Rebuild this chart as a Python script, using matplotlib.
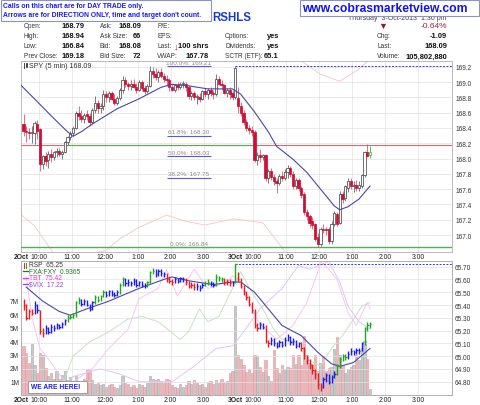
import numpy as np
import matplotlib
matplotlib.use("Agg")
import matplotlib.pyplot as plt
from matplotlib.patches import Rectangle
from matplotlib.lines import Line2D

plt.rcParams['font.family'] = ['Liberation Sans', 'DejaVu Sans']

# SPY 5 min candles: 2-Oct (78 bars) then 3-Oct up to 1:30 pm (49 bars)
spy_open = [
    168.45, 168.36, 168.34, 168.33, 168.33, 168.45,
    168.38, 167.93, 168.03, 167.98, 168.06, 168.02, 168.08, 168.10, 168.06, 168.09, 168.21, 168.28,
    168.33, 168.40, 168.60, 168.56, 168.52, 168.58, 168.55, 168.48, 168.64, 168.72, 168.66, 168.68,
    168.84, 168.80, 168.85, 168.78, 168.73, 168.79, 168.90, 169.03, 168.97, 168.95, 168.98, 168.94,
    168.90, 169.00, 168.92, 168.88, 168.95, 169.15, 169.10, 169.06, 169.13, 169.08, 169.04, 169.02,
    168.93, 168.90, 168.96, 168.93, 168.97, 168.98, 168.93, 168.82, 168.85, 168.80, 168.80, 168.78,
    168.88, 168.84, 168.90, 168.86, 168.84, 169.04, 168.98, 168.96, 168.86, 168.90, 168.86, 168.80,
    168.79, 168.68, 168.60, 168.48, 168.40, 168.37,
    168.35, 167.98, 168.04, 168.02, 168.04, 167.74, 167.84, 167.76, 167.71, 167.68, 167.77, 167.74,
    167.82, 167.87, 167.80, 167.64, 167.72, 167.62, 167.53, 167.30, 167.25, 167.18, 167.14, 166.98,
    166.88, 167.08, 167.08, 167.08, 166.92, 167.15, 167.28, 167.16, 167.54, 167.48, 167.62, 167.70,
    167.64, 167.66, 167.62, 167.64, 167.78, 168.08, 168.04]
spy_high = [
    168.58, 168.42, 168.40, 168.42, 168.49, 168.50,
    168.40, 168.05, 168.08, 168.10, 168.12, 168.10, 168.14, 168.14, 168.11, 168.23, 168.30, 168.36,
    168.42, 168.62, 168.69, 168.63, 168.60, 168.63, 168.60, 168.66, 168.82, 168.76, 168.72, 168.90,
    168.88, 168.88, 168.88, 168.84, 168.82, 168.92, 169.08, 169.06, 169.00, 169.02, 169.04, 168.99,
    169.02, 169.03, 168.96, 168.98, 169.21, 169.20, 169.18, 169.16, 169.18, 169.12, 169.09, 169.05,
    168.98, 168.98, 169.00, 169.00, 169.01, 169.00, 168.96, 168.88, 168.88, 168.84, 168.86, 168.90,
    168.92, 168.92, 168.93, 168.90, 169.10, 169.08, 169.02, 168.98, 168.92, 168.93, 168.90, 169.21,
    168.94, 168.74, 168.64, 168.52, 168.44, 168.42,
    168.37, 168.08, 168.12, 168.06, 168.06, 167.86, 167.88, 167.80, 167.74, 167.80, 167.84, 167.86,
    167.92, 167.90, 167.84, 167.75, 167.75, 167.64, 167.56, 167.34, 167.28, 167.24, 167.16, 167.02,
    167.10, 167.14, 167.10, 167.10, 167.18, 167.32, 167.30, 167.58, 167.58, 167.66, 167.74, 167.74,
    167.70, 167.72, 167.70, 167.80, 168.10, 168.19, 168.16]
spy_low = [
    168.30, 168.22, 168.25, 168.20, 168.19, 168.25,
    167.84, 167.86, 167.90, 167.88, 167.95, 167.98, 168.02, 168.03, 168.00, 168.07, 168.18, 168.24,
    168.30, 168.38, 168.50, 168.48, 168.46, 168.50, 168.42, 168.45, 168.60, 168.60, 168.60, 168.64,
    168.74, 168.74, 168.76, 168.70, 168.70, 168.76, 168.86, 168.94, 168.90, 168.90, 168.92, 168.86,
    168.88, 168.88, 168.84, 168.85, 168.93, 169.05, 169.02, 169.00, 169.05, 169.00, 168.95, 168.88,
    168.88, 168.87, 168.90, 168.91, 168.92, 168.88, 168.78, 168.76, 168.76, 168.71, 168.74, 168.76,
    168.80, 168.78, 168.82, 168.78, 168.82, 168.96, 168.90, 168.84, 168.80, 168.78, 168.76, 168.78,
    168.60, 168.56, 168.44, 168.36, 168.32, 168.30,
    167.95, 167.92, 167.96, 167.98, 167.70, 167.68, 167.72, 167.66, 167.55, 167.66, 167.70, 167.72,
    167.74, 167.76, 167.60, 167.60, 167.58, 167.48, 167.26, 167.20, 167.10, 167.08, 166.92, 166.84,
    166.86, 167.02, 167.00, 166.88, 166.88, 167.12, 167.12, 167.14, 167.42, 167.44, 167.56, 167.60,
    167.56, 167.58, 167.58, 167.62, 167.76, 168.02, 168.01]
spy_close = [
    168.36, 168.34, 168.33, 168.34, 168.46, 168.36,
    167.93, 168.03, 167.97, 168.06, 168.02, 168.08, 168.10, 168.06, 168.08, 168.21, 168.28, 168.33,
    168.40, 168.60, 168.55, 168.52, 168.57, 168.55, 168.48, 168.64, 168.72, 168.66, 168.68, 168.84,
    168.80, 168.86, 168.78, 168.73, 168.79, 168.90, 169.03, 168.97, 168.95, 168.98, 168.94, 168.90,
    169.00, 168.92, 168.88, 168.95, 169.15, 169.10, 169.06, 169.13, 169.08, 169.04, 169.02, 168.93,
    168.90, 168.96, 168.93, 168.97, 168.98, 168.93, 168.82, 168.85, 168.80, 168.80, 168.78, 168.88,
    168.84, 168.90, 168.86, 168.84, 169.04, 168.98, 168.96, 168.86, 168.90, 168.84, 168.80, 169.18,
    168.68, 168.60, 168.48, 168.40, 168.37, 168.35,
    167.98, 168.04, 168.02, 168.04, 167.74, 167.84, 167.76, 167.71, 167.68, 167.77, 167.74, 167.82,
    167.87, 167.80, 167.64, 167.72, 167.62, 167.52, 167.30, 167.25, 167.16, 167.13, 166.95, 166.88,
    167.08, 167.06, 167.07, 166.92, 167.15, 167.29, 167.14, 167.54, 167.47, 167.64, 167.70, 167.64,
    167.66, 167.62, 167.66, 167.78, 168.08, 168.03, 168.09]

# 20-bar moving average of SPY
spy_ma_x = [-1, 4, 10, 16, 18, 21, 25, 34, 42, 50, 54, 60, 67, 76, 79, 84, 89, 92, 98, 103, 108, 113, 115, 118, 122, 126]
spy_ma_v = [168.96, 168.78, 168.56, 168.35, 168.29, 168.35, 168.45, 168.65, 168.78, 168.93, 168.97, 168.95, 168.91,
            168.91, 168.84, 168.61, 168.35, 168.16, 167.99, 167.82, 167.60, 167.38, 167.33, 167.37, 167.47, 167.64]

# faint pink overlay in the price panel
pink_lo_x = [-1, 4, 9, 13, 30, 35, 42, 52, 59, 66, 76, 79, 87, 95]
pink_lo_v = [167.27, 167.12, 166.86, 166.66, 166.80, 166.95, 167.10, 167.26, 167.18, 167.13, 167.21, 167.20, 167.16, 166.79]
pink_hi_x = [100, 108, 115, 122, 125]
pink_hi_v = [169.30, 169.10, 169.01, 169.17, 169.27]

# fibonacci retracement
fib_pct = ['100.0%', '61.8%', '50.0%', '38.2%', '0.0%']
fib_price = [169.21, 168.30, 168.03, 167.75, 166.84]

# RSP (lower panel), high / low / close and impulse colour
rsp_high = [
    65.45, 65.41, 65.37, 65.37, 65.43, 65.41,
    65.36, 65.22, 65.24, 65.23, 65.25, 65.24, 65.26, 65.25, 65.27, 65.29, 65.32, 65.33,
    65.34, 65.43, 65.46, 65.45, 65.45, 65.44, 65.41, 65.43, 65.48, 65.47, 65.48, 65.52,
    65.51, 65.52, 65.52, 65.50, 65.52, 65.57, 65.62, 65.61, 65.60, 65.59, 65.61, 65.60,
    65.59, 65.59, 65.57, 65.59, 65.67, 65.69, 65.68, 65.68, 65.68, 65.66, 65.65, 65.62,
    65.60, 65.62, 65.61, 65.62, 65.62, 65.61, 65.59, 65.58, 65.57, 65.57, 65.56, 65.57,
    65.59, 65.60, 65.59, 65.58, 65.64, 65.63, 65.62, 65.61, 65.60, 65.60, 65.59, 65.72,
    65.66, 65.61, 65.56, 65.51, 65.47, 65.42,
    65.37, 65.26, 65.27, 65.26, 65.24, 65.13, 65.15, 65.14, 65.11, 65.13, 65.12, 65.15,
    65.17, 65.16, 65.14, 65.13, 65.11, 65.11, 65.07, 65.01, 64.98, 64.94, 64.90, 64.87,
    64.79, 64.84, 64.87, 64.86, 64.85, 64.88, 64.94, 64.99, 65.02, 65.02, 65.04, 65.06,
    65.05, 65.06, 65.06, 65.11, 65.23, 65.27, 65.27]
rsp_low = [
    65.36, 65.28, 65.29, 65.32, 65.33, 65.34,
    65.17, 65.15, 65.17, 65.17, 65.18, 65.20, 65.21, 65.21, 65.22, 65.24, 65.27, 65.29,
    65.30, 65.31, 65.41, 65.39, 65.40, 65.39, 65.35, 65.36, 65.41, 65.42, 65.43, 65.46,
    65.46, 65.47, 65.47, 65.46, 65.47, 65.49, 65.55, 65.55, 65.55, 65.55, 65.56, 65.54,
    65.55, 65.54, 65.53, 65.54, 65.57, 65.64, 65.62, 65.63, 65.63, 65.62, 65.58, 65.57,
    65.56, 65.57, 65.57, 65.58, 65.58, 65.56, 65.53, 65.53, 65.52, 65.52, 65.51, 65.53,
    65.55, 65.56, 65.55, 65.54, 65.55, 65.59, 65.58, 65.56, 65.56, 65.55, 65.55, 65.57,
    65.58, 65.53, 65.48, 65.44, 65.39, 65.34,
    65.22, 65.20, 65.21, 65.21, 65.10, 65.07, 65.09, 65.08, 65.06, 65.07, 65.07, 65.08,
    65.12, 65.09, 65.09, 65.06, 65.07, 65.04, 64.98, 64.94, 64.90, 64.86, 64.82, 64.74,
    64.73, 64.75, 64.80, 64.78, 64.79, 64.83, 64.85, 64.91, 64.96, 64.97, 64.98, 65.01,
    65.01, 65.02, 65.02, 65.04, 65.09, 65.20, 65.22]
rsp_close = [
    65.40, 65.30, 65.35, 65.34, 65.40, 65.36,
    65.20, 65.18, 65.22, 65.19, 65.23, 65.22, 65.24, 65.23, 65.25, 65.28, 65.30, 65.31,
    65.32, 65.42, 65.44, 65.41, 65.43, 65.40, 65.37, 65.42, 65.46, 65.44, 65.47, 65.50,
    65.48, 65.51, 65.49, 65.48, 65.50, 65.56, 65.60, 65.57, 65.58, 65.57, 65.59, 65.56,
    65.58, 65.56, 65.55, 65.58, 65.66, 65.67, 65.64, 65.67, 65.65, 65.64, 65.60, 65.59,
    65.58, 65.60, 65.59, 65.61, 65.60, 65.58, 65.55, 65.56, 65.54, 65.55, 65.53, 65.56,
    65.57, 65.58, 65.57, 65.56, 65.62, 65.61, 65.60, 65.58, 65.59, 65.57, 65.58, 65.72,
    65.60, 65.55, 65.50, 65.46, 65.41, 65.36,
    65.24, 65.22, 65.25, 65.23, 65.12, 65.10, 65.13, 65.10, 65.08, 65.11, 65.09, 65.13,
    65.15, 65.11, 65.12, 65.08, 65.10, 65.06, 65.00, 64.97, 64.93, 64.89, 64.86, 64.78,
    64.76, 64.82, 64.85, 64.80, 64.84, 64.86, 64.92, 64.98, 65.00, 64.99, 65.02, 65.04,
    65.03, 65.05, 65.04, 65.10, 65.22, 65.24, 65.25]
rsp_impulse = ("RRRRBB" "RRBBBBBBBBGG" "GGGBBBBBGGGG" "BBBBBGGBBBBB" "BBBGGGBBBBRR"
               "RBBBBRRRRBBB" "GGBBGGGRRRBG" "RRRRRR" "RRBBRRBBBBBB" "BBBBBRRRRRRR"
               "RBBBBBGGGGBB" "BBBBGGG")

rsp_ma_x = [1, 7, 13, 17, 23, 31, 42, 51, 54, 60, 69, 76, 79, 84, 89, 94, 101, 107, 112, 115, 120, 126]
rsp_ma_v = [65.54, 65.43, 65.35, 65.32, 65.37, 65.43, 65.53, 65.60, 65.62, 65.59, 65.56, 65.58,
            65.58, 65.50, 65.37, 65.24, 65.16, 65.03, 64.94, 64.92, 64.95, 65.06]

# volume, millions
volume = [
    3.6, 3.1, 2.4, 3.8, 2.2, 1.6,
    3.1, 3.0, 2.0, 1.4, 1.6, 1.2, 1.8, 1.2, 1.5, 1.8, 1.1, 1.3,
    0.9, 1.4, 1.0, 0.8, 1.2, 1.9, 1.9, 1.1, 0.8, 0.9, 0.7, 0.8,
    0.6, 0.7, 0.8, 0.6, 0.5, 0.7, 1.4, 0.9, 0.8, 0.6, 0.7, 0.5,
    0.8, 0.7, 0.6, 0.9, 1.4, 1.2, 1.1, 1.2, 1.0, 0.9, 1.2, 1.1,
    0.7, 0.6, 0.5, 0.8, 0.6, 0.7, 1.0, 0.8, 1.1, 0.9, 0.7, 0.8,
    0.6, 0.9, 1.0, 0.8, 1.1, 0.9, 1.2, 0.9, 1.0, 1.6, 1.8, 6.6,
    3.0, 2.7, 2.2, 1.7, 1.9, 1.6,
    3.0, 2.9, 2.1, 1.7, 2.6, 1.4, 1.0, 3.3, 2.0, 1.6, 2.2, 1.9,
    2.1, 2.0, 3.0, 2.3, 3.0, 2.2, 4.4, 3.0, 2.4, 2.2, 3.0, 1.8,
    2.4, 2.9, 1.8, 2.0, 2.1, 3.4, 4.3, 3.0, 2.2, 1.6, 1.9, 2.1,
    2.2, 3.0, 2.6, 3.5, 4.0, 2.7, 0.4]

# comparison overlays in the lower panel (drawn on the RSP scale)
fxa_x = [13, 18, 24, 31, 38, 43, 49, 57, 60, 64, 67, 71, 76, 79, 83, 87, 91, 94, 99, 103, 108, 112, 116, 120, 123, 126]
fxa_v = [64.70, 65.00, 65.11, 65.19, 65.29, 65.31, 65.27, 65.13, 65.19, 65.37, 65.27, 65.31, 65.53,
         65.66, 65.50, 65.37, 65.21, 65.13, 65.11, 64.98, 64.92, 65.06, 65.16, 65.29, 65.39, 65.42]
tbt_x = [1, 3, 6, 10, 16, 25, 31, 38, 42, 49, 52, 56, 62, 67, 74, 76, 78, 82, 86, 92, 98, 103, 107, 108, 111, 114, 118, 121, 125, 126]
tbt_v = [65.62, 65.31, 65.06, 64.95, 64.77, 64.90, 65.06, 65.21, 65.45, 65.53, 65.68, 65.47, 65.68, 65.53,
         65.58, 65.63, 65.60, 65.42, 65.25, 65.13, 65.24, 65.42, 65.66, 65.74, 65.68, 65.60, 65.34, 65.24, 65.42, 65.37]
vix_x = [13, 18, 28, 35, 42, 54, 62, 70, 76, 79, 86, 94, 100, 104, 111, 115, 118, 122, 126]
vix_v = [64.74, 64.84, 64.90, 64.86, 64.80, 64.80, 64.92, 65.06, 65.08, 65.16, 65.37, 65.53, 65.71,
         65.68, 65.74, 65.58, 65.39, 65.27, 65.21]

hour_pos = [6, 18, 30, 42, 54, 66, 84, 96, 108, 120, 132, 144]
hour_lbl = ['10:00', '11:00', '12:00', '1:00', '2:00', '3:00'] * 2
day_lbl = ['2Oct', '3Oct']
day_pos = [6, 84]

W, H = 480, 406
fig = plt.figure(figsize=(4.8, 4.06), dpi=100)
fig.patch.set_facecolor('white')


def fx(x):
    return x / W


def fy(y):
    return 1 - y / H


def ftext(x, y, s, **kw):
    kw.setdefault('va', 'center')
    fig.text(fx(x), fy(y), s, **kw)


L, R = 21.3, 451.7
ax = fig.add_axes([fx(L), fy(252.7), (R - L) / W, (252.7 - 62.0) / H])
axv = fig.add_axes([fx(L), fy(395.7), (R - L) / W, (395.7 - 261.7) / H])
axr = axv.twinx()

GRID = '#e2e2e2'
for a in (ax, axv, axr):
    for s in a.spines.values():
        s.set_color('#b0b0b0')
        s.set_linewidth(0.6)
    a.set_xlim(-0.3, 156.2)

# ---------------- price panel ----------------
o = np.array(spy_open)
h = np.array(spy_high)
l = np.array(spy_low)
c = np.array(spy_close)
xs = np.arange(len(c)) + 0.5
last = len(c) - 1
up = c >= o
wick_col = ['#3cb83c' if i == last else ('#666666' if up[i] else '#dd5575') for i in range(len(c))]
face_col = ['white' if up[i] else '#cc1036' for i in range(len(c))]
edge_col = ['#3cb83c' if i == last else ('#4a4a4a' if up[i] else '#cc1036') for i in range(len(c))]
ax.vlines(xs, l, h, colors=wick_col, lw=0.6, zorder=3)
ax.bar(xs, np.maximum(np.abs(c - o), 0.012), bottom=np.minimum(o, c), width=0.75,
       color=face_col, edgecolor=edge_col, linewidth=0.55, zorder=4)

ax.plot(np.array(spy_ma_x) + 0.5, spy_ma_v, color='#4848a8', lw=0.8, zorder=5)
ax.plot(np.array(pink_lo_x) + 0.5, pink_lo_v, color='#f6cccc', lw=0.7, zorder=2)
ax.plot(np.array(pink_hi_x) + 0.5, pink_hi_v, color='#f6cccc', lw=0.7, zorder=2)

for p, v in zip(fib_pct, fib_price):
    ax.hlines(v, 52.7, 68.7, color='#5a5ad8', lw=0.8, zorder=2)
    ax.annotate(f'{p}: {v:.2f}', xy=(60.7, v), xytext=(0, 1.0), textcoords='offset points',
                ha='center', va='bottom', fontsize=4.6, color='#8c8c8c', clip_on=True, zorder=2)

# drawn lines
ax.axhline(168.18, color='#e06868', lw=0.8, zorder=2)
ax.hlines(168.18, 16.3, 83.6, color='#5aaa5a', lw=0.8, zorder=2)
ax.axhline(166.84, color='#5aaa5a', lw=1.0, zorder=6)
ax.hlines(169.21, 77.5, 156.2, color='#3333ff', lw=0.7, linestyles=(0, (2, 1.5)), zorder=2)

ax.set_ylim(166.782, 169.2745)
ax.yaxis.tick_right()
ax.set_yticks([167.0, 167.2, 167.4, 167.6, 167.8, 168.0, 168.2, 168.4, 168.6, 168.8, 169.0, 169.2])
ax.set_yticklabels([f'{t:.1f}' for t in ax.get_yticks()])
ax.set_xticks(hour_pos)
ax.set_xticklabels(hour_lbl)
ax.grid(True, color=GRID, lw=0.5)
ax.set_axisbelow(True)
ax.tick_params(axis='y', length=0, pad=2.4, labelsize=4.7, labelcolor='#333333')
ax.tick_params(axis='x', length=0, pad=1.2, labelsize=4.9, labelcolor='#222222')

# ---------------- lower panel ----------------
vol_face = ['#ebb7bb' if not up[i] else '#c9c9c9' for i in range(len(volume))]
vol_edge = ['#dc9aa0' if not up[i] else '#a6a6a6' for i in range(len(volume))]
axv.bar(xs, volume, width=0.8, color=vol_face, edgecolor=vol_edge, linewidth=0.4, zorder=1)
axv.set_ylim(0, 10.0)
axv.set_yticks([1, 2, 3, 4, 5, 6, 7])
axv.set_yticklabels(['1M', '2M', '3M', '4M', '5M', '6M', '7M'])
axv.set_xticks(hour_pos)
axv.set_xticklabels(hour_lbl)
axv.grid(True, axis='x', color=GRID, lw=0.5)
axv.set_axisbelow(True)
axv.tick_params(axis='y', length=0, pad=1.6, labelsize=4.7, labelcolor='#333333')
axv.tick_params(axis='x', length=0, pad=1.2, labelsize=4.9, labelcolor='#222222')

imp_col = {'R': '#ee1c1c', 'G': '#1ea81e', 'B': '#1c1cee'}
rc = [imp_col[k] for k in rsp_impulse]
axr.plot(np.array(fxa_x) + 0.5, fxa_v, color='#c6e2c6', lw=0.7, zorder=2)
axr.plot(np.array(tbt_x) + 0.5, tbt_v, color='#f6c6f4', lw=0.7, zorder=2)
axr.plot(np.array(vix_x) + 0.5, vix_v, color='#dcc8f6', lw=0.7, zorder=2)
axr.plot(np.array(rsp_ma_x) + 0.5, rsp_ma_v, color='#4848a8', lw=0.8, zorder=3)
axr.vlines(xs, rsp_low, rsp_high, colors=rc, lw=1.0, zorder=4)
axr.hlines(rsp_close, xs, xs + 0.5, colors=rc, lw=1.0, zorder=4)
axr.hlines(65.72, 77.5, 156.2, color='#3333ff', lw=0.7, linestyles=(0, (2, 1.5)), zorder=2)
axr.set_ylim(64.698, 65.747)
axr.set_yticks([64.8, 64.9, 65.0, 65.1, 65.2, 65.3, 65.4, 65.5, 65.6, 65.7])
axr.set_yticklabels([f'{t:.2f}' for t in axr.get_yticks()])
axr.grid(True, axis='y', color=GRID, lw=0.5)
axr.tick_params(axis='y', length=0, pad=2.4, labelsize=4.7, labelcolor='#333333')

# date labels in front of the first time label of each day
for a in (ax, axv):
    for p, s in zip(day_pos, day_lbl):
        a.annotate(s, xy=(p, 0), xycoords=('data', 'axes fraction'), xytext=(-7.2, -1.2),
                   textcoords='offset points', ha='right', va='top', fontsize=4.9,
                   fontweight='bold', color='#222222', annotation_clip=False)

# ---------------- legends ----------------
ftext(29, 66, 'SPY (5 min) 168.09', fontsize=5.1, color='#333333')
fig.add_artist(Line2D([fx(24), fx(24)], [fy(63.5), fy(68.5)], color='#222222', lw=0.6))
fig.add_artist(Line2D([fx(26.5), fx(26.5)], [fy(64.5), fy(68)], color='#222222', lw=1.2))

leg = [('RSP  65.25', '#333333', 266), ('FXA:FXY  0.9365', '#1e7a1e', 272.3),
       ('TBT  75.42', '#ff22ff', 278.7), ('$VIX  17.22', '#a040e0', 284.7)]
for s, col, y in leg:
    ftext(29, y, s, fontsize=4.8, color=col)
fig.add_artist(Line2D([fx(23.5), fx(23.5)], [fy(263.5), fy(268.5)], color='#ee1c1c', lw=0.7))
fig.add_artist(Line2D([fx(26), fx(26)], [fy(264), fy(268.5)], color='#1ea81e', lw=0.7))
for s, col, y in leg[1:]:
    fig.add_artist(Line2D([fx(22.5), fx(27.5)], [fy(y), fy(y)], color=col, lw=0.9))

fig.add_artist(Rectangle((fx(28), fy(393.5)), fx(87) - fx(28), fy(382) - fy(393.5),
                         facecolor='white', edgecolor='#909090', lw=0.6, zorder=5))
ftext(31, 387.8, 'WE ARE HERE!', fontsize=4.8, fontweight='bold', color='#1a1aee', zorder=6)

# ---------------- header ----------------
LAB = dict(fontsize=4.7, color='#333333')
VAL = dict(fontsize=5.4, color='#111111', fontweight='bold', ha='right')
rows = [27, 37, 47, 57]
for y, lab, val in zip(rows, ['Open:', 'High:', 'Low:', 'Prev Close:'], ['168.79', '168.94', '166.84', '169.18']):
    ftext(24, y, lab, **LAB)
    ftext(85, y, val, **VAL)
for y, lab, val in zip(rows, ['Ask:', 'Ask Size:', 'Bid:', 'Bid Size:'], ['168.09', '66', '168.08', '72']):
    ftext(100, y, lab, **LAB)
    ftext(141, y, val, **VAL)
for y, lab in zip(rows, ['P/E:', 'EPS:', 'Last:', 'VWAP:']):
    ftext(157, y, lab, **LAB)
ftext(209, 47, '100 shrs', **VAL)
ftext(176.5, 47, '\u2193', fontsize=6.5, color='#cc0000', fontweight='bold', ha='center')
ftext(209, 57, '167.78', **VAL)
for y, lab, val in zip(rows[1:], ['Options:', 'Dividends:', 'SCTR (ETF):'], ['yes', 'yes', '65.1']):
    ftext(225, y, lab, **LAB)
    ftext(279, y, val, **VAL)
for y, lab, val in zip(rows[1:], ['Chg:', 'Last:', 'Volume:'], ['-1.09', '168.09', '105,802,880']):
    ftext(377, y, lab, **LAB)
    ftext(447, y, val, **VAL)
ftext(447, 27, '-0.64%', fontsize=6, color='#a0203a', ha='right')
ftext(383, 26.5, '\u25bc', fontsize=6.5, color='#8c1a38', ha='center')

ftext(212, 18, 'RSHLS', fontsize=8.3, fontweight='bold', color='#1a3ad8', zorder=1)
# date line, mostly hidden behind the web address box
ftext(447, 18.6, 'Thursday  3-Oct-2013  1:30 pm', fontsize=5, color='#444444', ha='right', zorder=1)

fig.add_artist(Rectangle((fx(1), fy(22)), fx(211) - fx(1), fy(1) - fy(22),
                         facecolor='white', edgecolor='#8c94c4', lw=0.8, zorder=5))
ftext(3, 7, 'Calls on this chart are for DAY TRADE only.', fontsize=4.9, fontweight='bold',
      color='#1a1aee', zorder=6)
ftext(3, 15.5, "Arrows are for DIRECTION ONLY, time and target don't count.", fontsize=4.9,
      fontweight='bold', color='#1a1aee', zorder=6)

fig.add_artist(Rectangle((fx(300), fy(17)), fx(478.5) - fx(300), fy(1) - fy(17),
                         facecolor='white', edgecolor='#8c94c4', lw=0.8, zorder=5))
ftext(302, 8.6, 'www.cobrasmarketview.com', fontsize=8.7, fontweight='bold', color='#1111ee', zorder=6)

fig.savefig('out.png', dpi=100, facecolor='white')
